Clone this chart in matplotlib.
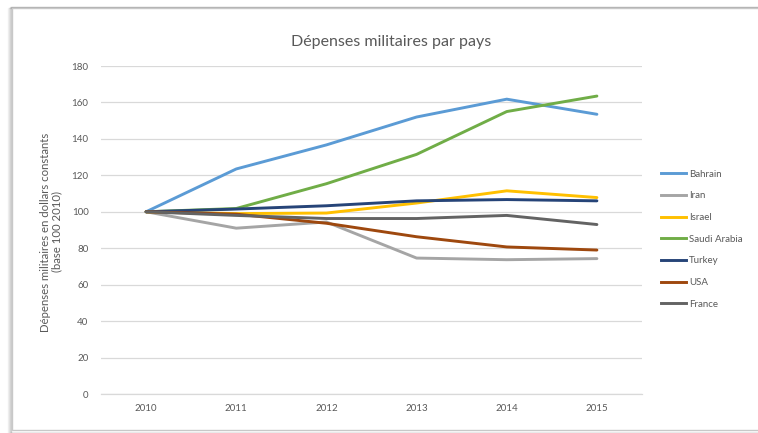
import matplotlib
matplotlib.use("Agg")
import matplotlib.pyplot as plt
from matplotlib.patches import Rectangle
from matplotlib.lines import Line2D

years = ["2010", "2011", "2012", "2013", "2014", "2015"]
bahrain = [100, 123.5, 136.7, 152, 161.8, 153.5]
iran = [100, 91, 94.4, 74.6, 73.7, 74.3]
israel = [100, 99, 99.3, 104.8, 111.5, 107.8]
saudi = [100, 101.8, 115.4, 131.5, 155, 163.5]
turkey = [100, 101.5, 103.3, 106, 106.7, 106]
usa = [100, 98.7, 93.7, 86.3, 80.7, 79]
france = [100, 98, 96.3, 96.3, 98, 93]

series = [
    ("Bahrain", bahrain, "#5B9BD5"),
    ("Iran", iran, "#A5A5A5"),
    ("Israel", israel, "#FFC000"),
    ("Saudi Arabia", saudi, "#70AD47"),
    ("Turkey", turkey, "#264478"),
    ("USA", usa, "#9E480E"),
    ("France", france, "#636363"),
]

plt.rcParams['font.family'] = ['Lato', 'DejaVu Sans']
W, H = 758, 433
fig = plt.figure(figsize=(W / 100, H / 100), dpi=100)

# frame with soft shadow
for i, a in enumerate([0.05, 0.08, 0.12, 0.18]):
    fig.patches.append(Rectangle(((8 + i) / W, 0.0), 1.0, 1 - (8 - i * 0.5) / H,
                                 transform=fig.transFigure, facecolor="none",
                                 edgecolor=(0, 0, 0, a), linewidth=1.0, zorder=-2))
fig.patches.append(Rectangle((12 / W, 3 / H), 1.0, 1 - 11 / H,
                             transform=fig.transFigure, facecolor="white",
                             edgecolor="#C8C8C8", linewidth=1.0, zorder=-1))

ax = fig.add_axes([101 / W, 1 - 394 / H, (642 - 101) / W, (394 - 66) / H])
ax.set_zorder(3)
x = list(range(len(years)))
for name, vals, col in series:
    ax.plot(x, vals, color=col, linewidth=2.1, label=name, solid_capstyle="round")

ax.set_xlim(-0.5, len(years) - 0.5)
ax.set_ylim(0, 180)
ax.set_yticks(range(0, 181, 20))
ax.set_xticks(x)
ax.set_xticklabels(years)
ax.grid(axis="y", color="#D9D9D9", linewidth=0.9)
ax.set_axisbelow(True)
for s in ["top", "right", "left"]:
    ax.spines[s].set_visible(False)
ax.spines["bottom"].set_color("#D9D9D9")
ax.spines["bottom"].set_linewidth(0.9)
ax.tick_params(axis="both", length=0, labelsize=7, labelcolor="#595959")
ax.tick_params(axis="y", pad=9)
ax.tick_params(axis="x", pad=7)
ax.patch.set_alpha(0)

fig.text(391 / W, 1 - 42 / H, "Dépenses militaires par pays", ha="center", va="center",
         fontsize=11.5, color="#595959", zorder=4)
fig.text(51 / W, 1 - 232 / H, "Dépenses militaires en dollars constants\n(base 100 2010)",
         rotation=90, ha="center", va="center", fontsize=8.2, color="#595959",
         linespacing=1.05, zorder=4)

handles = [Line2D([0], [0], color=c, linewidth=2.1) for _, _, c in series]
leg = fig.legend(handles, [n for n, _, _ in series], loc="upper left",
                 bbox_to_anchor=(652 / W, 1 - 161 / H), frameon=False,
                 fontsize=7, labelcolor="#595959", handlelength=2.6,
                 handletextpad=0.3, labelspacing=1.3)
leg.set_zorder(4)

fig.savefig("out.png", dpi=100)
